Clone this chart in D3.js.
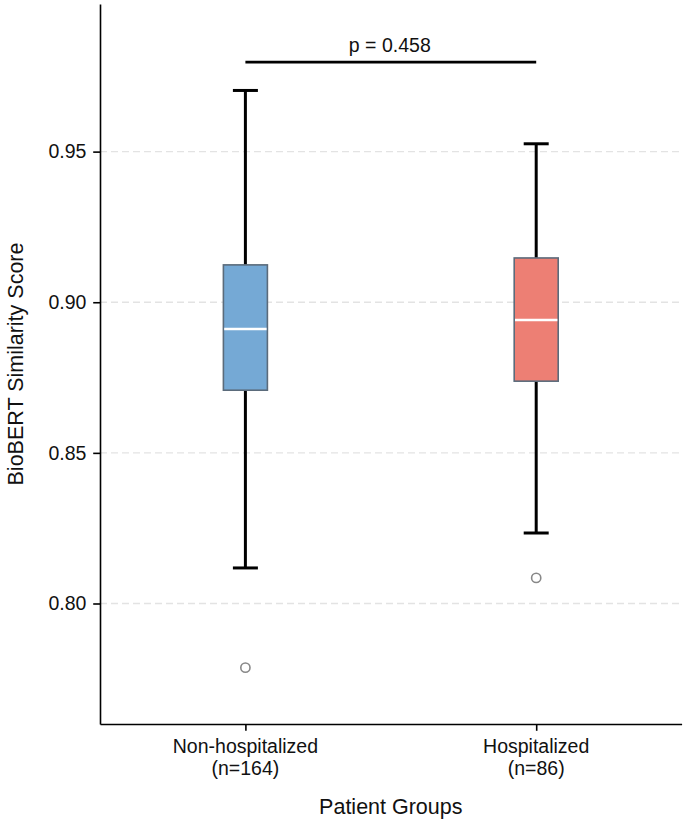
<!DOCTYPE html>
<html>
<head>
<meta charset="utf-8">
<script src="https://cdn.jsdelivr.net/npm/d3@7"></script>
<style>
  body { margin: 0; background: #fff; }
  svg { display: block; font-family: "Liberation Sans", Arial, Helvetica, sans-serif; }
</style>
</head>
<body>
<div class="container"></div>
<script>
// box statistics
var categories = ["Non-hospitalized", "Hospitalized"];
var counts = [164, 86];
var whiskerLow = [0.8118, 0.8234];
var q1 = [0.8708, 0.8738];
var median = [0.8911, 0.8941];
var q3 = [0.9124, 0.9147];
var whiskerHigh = [0.9703, 0.9526];
var outliers = [[0.7787], [0.8085]];
var boxColors = ["#75a9d5", "#ed7f74"];
var yTicks = [0.80, 0.85, 0.90, 0.95];
var pLabel = "p = 0.458";
var bracketY = 0.9797;

var W = 685, H = 823;
var plotL = 100, plotR = 681.6, plotT = 4, plotB = 724;

var svg = d3.select(".container").append("svg")
  .attr("width", W).attr("height", H);

var y = d3.scaleLinear().domain([0.76, 0.999]).range([plotB, plotT]);
var x = d3.scaleLinear().domain([0.5, 2.5]).range([plotL, plotR]);
var pos = function(i) { return x(i + 1); };

var tickLen = 6.8, fs = 19.5;

// grid
svg.append("g").selectAll("line")
  .data(yTicks).enter().append("line")
  .attr("x1", plotL).attr("x2", plotR)
  .attr("y1", function(d) { return y(d); })
  .attr("y2", function(d) { return y(d); })
  .attr("stroke", "#e3e3e3")
  .attr("stroke-width", 1.4)
  .attr("stroke-dasharray", "7,4");

// y axis
var yAxis = d3.axisLeft(y).tickValues(yTicks)
  .tickFormat(d3.format(".2f"))
  .tickSizeInner(tickLen).tickSizeOuter(0).tickPadding(6.8);
var gy = svg.append("g").attr("transform", "translate(" + plotL + ",0)").call(yAxis);
gy.select(".domain").attr("stroke", "#000").attr("stroke-width", 1.6);
gy.selectAll(".tick line").attr("stroke", "#000").attr("stroke-width", 1.6);
gy.selectAll(".tick text").attr("font-size", fs).attr("fill", "#111")
  .attr("font-family", "Liberation Sans, Arial, sans-serif");

// x axis
var xAxis = d3.axisBottom(x).tickValues([1, 2])
  .tickSizeInner(tickLen).tickSizeOuter(0).tickFormat("");
var gx = svg.append("g").attr("transform", "translate(0," + plotB + ")").call(xAxis);
gx.select(".domain").attr("stroke", "#000").attr("stroke-width", 1.6);
gx.selectAll(".tick line").attr("stroke", "#000").attr("stroke-width", 1.6);

var xl = svg.append("g").selectAll("text")
  .data(categories).enter().append("text")
  .attr("text-anchor", "middle")
  .attr("font-size", fs).attr("fill", "#111")
  .attr("x", function(d, i) { return pos(i); })
  .attr("y", 753);
xl.append("tspan").attr("x", function(d, i) { return pos(i); }).text(function(d) { return d; });
xl.append("tspan").attr("x", function(d, i) { return pos(i); }).attr("dy", 22)
  .text(function(d, i) { return "(n=" + counts[i] + ")"; });

// axis titles
svg.append("text")
  .attr("x", (plotL + plotR) / 2).attr("y", 814)
  .attr("text-anchor", "middle").attr("font-size", 21.5).attr("fill", "#111")
  .text("Patient Groups");
svg.append("text")
  .attr("transform", "translate(23," + ((plotT + plotB) / 2) + ") rotate(-90)")
  .attr("text-anchor", "middle").attr("font-size", 21.5).attr("fill", "#111")
  .text("BioBERT Similarity Score");

// boxes
var boxW = 44, capW = 25;
var groups = svg.append("g").selectAll("g")
  .data(categories).enter().append("g");

groups.append("line")
  .attr("x1", function(d, i) { return pos(i); })
  .attr("x2", function(d, i) { return pos(i); })
  .attr("y1", function(d, i) { return y(q3[i]); })
  .attr("y2", function(d, i) { return y(whiskerHigh[i]); })
  .attr("stroke", "#000").attr("stroke-width", 3);
groups.append("line")
  .attr("x1", function(d, i) { return pos(i); })
  .attr("x2", function(d, i) { return pos(i); })
  .attr("y1", function(d, i) { return y(q1[i]); })
  .attr("y2", function(d, i) { return y(whiskerLow[i]); })
  .attr("stroke", "#000").attr("stroke-width", 3);
[whiskerHigh, whiskerLow].forEach(function(arr) {
  groups.append("line")
    .attr("x1", function(d, i) { return pos(i) - capW / 2; })
    .attr("x2", function(d, i) { return pos(i) + capW / 2; })
    .attr("y1", function(d, i) { return y(arr[i]); })
    .attr("y2", function(d, i) { return y(arr[i]); })
    .attr("stroke", "#000").attr("stroke-width", 3);
});

groups.append("rect")
  .attr("x", function(d, i) { return pos(i) - boxW / 2; })
  .attr("width", boxW)
  .attr("y", function(d, i) { return y(q3[i]); })
  .attr("height", function(d, i) { return y(q1[i]) - y(q3[i]); })
  .attr("fill", function(d, i) { return boxColors[i]; })
  .attr("stroke", "#5b6b7b").attr("stroke-width", 1.6);

groups.append("line")
  .attr("x1", function(d, i) { return pos(i) - boxW / 2 + 0.8; })
  .attr("x2", function(d, i) { return pos(i) + boxW / 2 - 0.8; })
  .attr("y1", function(d, i) { return y(median[i]); })
  .attr("y2", function(d, i) { return y(median[i]); })
  .attr("stroke", "#fff").attr("stroke-width", 2.5);

groups.each(function(d, i) {
  d3.select(this).selectAll("circle")
    .data(outliers[i]).enter().append("circle")
    .attr("cx", pos(i)).attr("cy", function(v) { return y(v); })
    .attr("r", 4.6)
    .attr("fill", "none").attr("stroke", "#888").attr("stroke-width", 1.6);
});

// significance bracket
svg.append("line")
  .attr("x1", pos(0)).attr("x2", pos(1))
  .attr("y1", y(bracketY)).attr("y2", y(bracketY))
  .attr("stroke", "#000").attr("stroke-width", 2.8);
svg.append("text")
  .attr("x", (pos(0) + pos(1)) / 2 - 1).attr("y", 51.7)
  .attr("text-anchor", "middle").attr("font-size", fs).attr("fill", "#111")
  .text(pLabel);
</script>
</body>
</html>
